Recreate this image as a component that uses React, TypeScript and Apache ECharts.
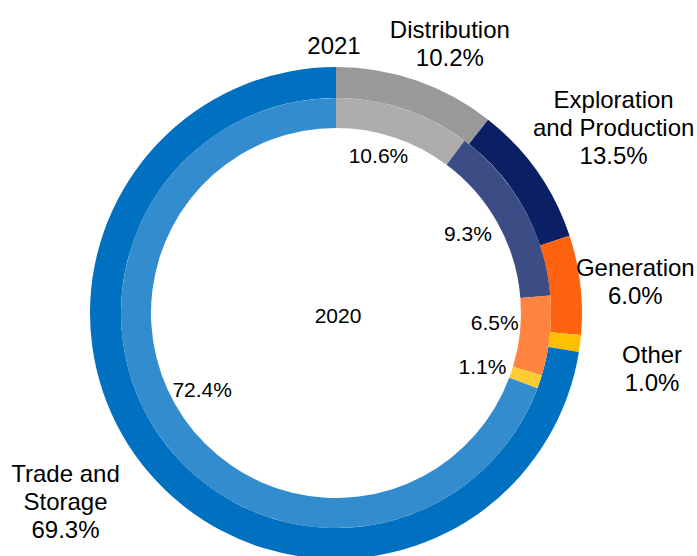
import React, { useEffect, useRef } from "react";
import * as echarts from "echarts";

// ---- data ----
const categories = ["Distribution", "Exploration\nand Production", "Generation", "Other", "Trade and\nStorage"];
const values2021 = [10.2, 13.5, 6.0, 1.0, 69.3];
const values2020 = [10.6, 9.3, 6.5, 1.1, 72.4];
const ringTitles = ["2021", "2020"];

// ---- styles ----
const outerColors = ["#999999", "#0b1f65", "#ff6310", "#ffc000", "#0070c0"];
const innerColors = ["#adadad", "#3c4c84", "#ff8440", "#ffcd33", "#338ccd"];
const FONT = '"Liberation Sans", Arial, Helvetica, sans-serif';
const CENTER: [number, number] = [336, 313];

// label placement (angle shift in degrees from slice middle, distance from centre)
const shift2021 = [4.5, -4.8, -12.2, -8.7, -0.2];
const dist2021 = [293, 334, 301, 321, 330];
const shift2020 = [-4.0, 3.95, 10.0, 13.1, 10.8];
const dist2020 = [163, 154, 159, 156, 154];

function midAngleFromValues(values: number[], i: number) {
  const total = values.reduce((a, b) => a + b, 0);
  let before = 0;
  for (let k = 0; k < i; k++) before += values[k];
  const frac = (before + values[i] / 2) / total;
  return -Math.PI / 2 + frac * Math.PI * 2;
}

export default function App() {
  const ref = useRef<HTMLDivElement>(null);
  useEffect(() => {
    if (!ref.current) return;
    const chart = echarts.init(ref.current, null, { renderer: "svg" });

    const placer = (values: number[], shifts: number[], dists: number[]) => (p: any) => {
      const i = p.dataIndex;
      let cx = CENTER[0];
      let cy = CENTER[1];
      let mid = midAngleFromValues(values, i);
      try {
        const l = (chart as any).getModel().getSeriesByIndex(p.seriesIndex).getData().getItemLayout(i);
        if (l && isFinite(l.startAngle)) {
          cx = l.cx;
          cy = l.cy;
          mid = (l.startAngle + l.endAngle) / 2;
        }
      } catch (e) {}
      const a = mid + (shifts[i] * Math.PI) / 180;
      return {
        x: cx + dists[i] * Math.cos(a),
        y: cy + dists[i] * Math.sin(a),
        align: "center",
        verticalAlign: "middle",
      };
    };

    chart.setOption({
      animation: false,
      backgroundColor: "#ffffff",
      graphic: [
        {
          type: "text",
          x: 334,
          y: 45,
          style: { text: ringTitles[0], align: "center", verticalAlign: "middle", fontSize: 24, fontFamily: FONT, fill: "#000" },
        },
        {
          type: "text",
          x: 338,
          y: 315,
          style: { text: ringTitles[1], align: "center", verticalAlign: "middle", fontSize: 21, fontFamily: FONT, fill: "#000" },
        },
      ],
      series: [
        {
          type: "pie",
          name: ringTitles[1],
          radius: [215, 246],
          center: CENTER,
          startAngle: 90,
          clockwise: true,
          avoidLabelOverlap: false,
          silent: true,
          emphasis: { disabled: true },
          itemStyle: { borderWidth: 0 },
          labelLine: { show: false },
          label: {
            show: true,
            position: "inside",
            formatter: (p: any) => `${Number(p.value).toFixed(1)}%`,
            color: "#000",
            fontSize: 21,
            fontFamily: FONT,
            textBorderWidth: 0,
            textBorderColor: "transparent",
          },
          labelLayout: placer(values2020, shift2020, dist2020),
          data: categories.map((n, i) => ({ name: n, value: values2020[i], itemStyle: { color: outerColors[i] } })),
        },
        {
          type: "pie",
          name: ringTitles[0],
          radius: [185, 215],
          center: CENTER,
          startAngle: 90,
          clockwise: true,
          avoidLabelOverlap: false,
          silent: true,
          emphasis: { disabled: true },
          itemStyle: { borderWidth: 0 },
          labelLine: { show: false },
          label: {
            show: true,
            position: "inside",
            formatter: (p: any) => `${p.name}\n${Number(p.value).toFixed(1)}%`,
            color: "#000",
            fontSize: 24,
            lineHeight: 28,
            align: "center",
            fontFamily: FONT,
            textBorderWidth: 0,
            textBorderColor: "transparent",
          },
          labelLayout: placer(values2021, shift2021, dist2021),
          data: categories.map((n, i) => ({ name: n, value: values2021[i], itemStyle: { color: innerColors[i] } })),
        },
      ],
    });
    return () => chart.dispose();
  }, []);
  return <div ref={ref} style={{ position: "absolute", left: 0, top: 0, width: 697, height: 556 }} />;
}
